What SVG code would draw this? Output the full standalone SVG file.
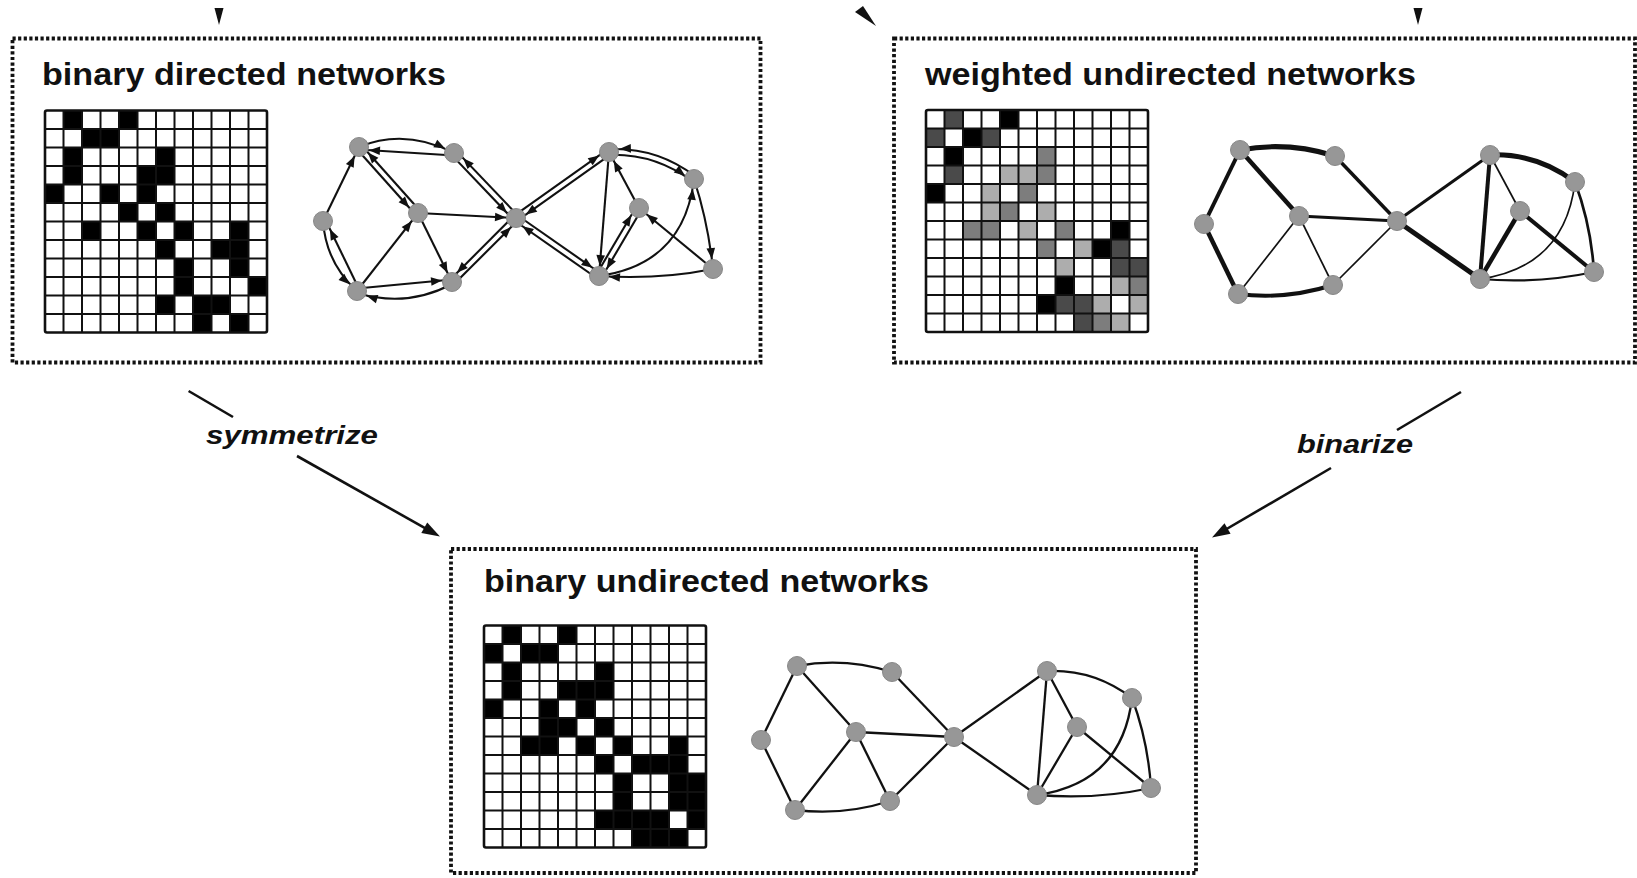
<svg xmlns="http://www.w3.org/2000/svg" xmlns:xlink="http://www.w3.org/1999/xlink" width="1637" height="878" viewBox="0 0 1637 878">
  <style>
    .box { fill: none; stroke: #111; stroke-width: 3.8; stroke-dasharray: 3.2 2.4; }
    .title { font-family: "Liberation Sans", Arial, sans-serif; font-weight: bold; font-size: 32px; fill: #111; }
    .op { font-family: "Liberation Sans", Arial, sans-serif; font-weight: bold; font-style: italic; font-size: 26px; fill: #111; }
    .k { fill: #000; }
    .dk { fill: #4a4a4a; }
    .md { fill: #7d7d7d; }
    .lt { fill: #adadad; }
    .node { fill: #979797; stroke: #888; stroke-width: 1; }
    .de { fill: none; stroke: #111; stroke-width: 2.1; marker-end: url(#ah); }
    .ue { fill: none; stroke: #111; stroke-width: 2.3; }
    .flow { fill: none; stroke: #111; stroke-width: 2.6; }
  </style>
  <defs>
    <!-- small arrowhead: tip sits 10 units short of the path end (node centre) -->
    <marker id="ah" markerUnits="userSpaceOnUse" orient="auto" refX="10" refY="0" markerWidth="1" markerHeight="1" overflow="visible">
      <path d="M0,0 L-11,-4.3 L-11,4.3 Z" fill="#111"/>
    </marker>
    <!-- large arrowhead for the transformation arrows -->
    <marker id="big" markerUnits="userSpaceOnUse" orient="auto" refX="-8" refY="0" markerWidth="1" markerHeight="1" overflow="visible">
      <path d="M0,0 L-18,-6 L-18,6 Z" fill="#111"/>
    </marker>
    <!-- 12 x 12 adjacency grid -->
    <g id="grid">
      <path fill="none" stroke="#111" stroke-width="2" d="M18.5 0V222M37 0V222M55.5 0V222M74 0V222M92.5 0V222M111 0V222M129.5 0V222M148 0V222M166.5 0V222M185 0V222M203.5 0V222M0 18.5H222M0 37H222M0 55.5H222M0 74H222M0 92.5H222M0 111H222M0 129.5H222M0 148H222M0 166.5H222M0 185H222M0 203.5H222"/>
      <rect x="0" y="0" width="222" height="222" rx="2" fill="none" stroke="#111" stroke-width="2.6"/>
    </g>
    <!-- node set shared by all three graphs -->
    <g id="nodes">
      <circle class="node" cx="359" cy="147" r="9.5"/>
      <circle class="node" cx="454" cy="153" r="9.5"/>
      <circle class="node" cx="323" cy="221" r="9.5"/>
      <circle class="node" cx="418" cy="213" r="9.5"/>
      <circle class="node" cx="357" cy="291" r="9.5"/>
      <circle class="node" cx="452" cy="282" r="9.5"/>
      <circle class="node" cx="516" cy="218" r="9.5"/>
      <circle class="node" cx="609" cy="152" r="9.5"/>
      <circle class="node" cx="694" cy="179" r="9.5"/>
      <circle class="node" cx="639" cy="208" r="9.5"/>
      <circle class="node" cx="599" cy="276" r="9.5"/>
      <circle class="node" cx="713" cy="269" r="9.5"/>
    </g>
  </defs>

  <rect width="1637" height="878" fill="#fff"/>

  <!-- panel: binary directed networks -->
  <g id="binary-directed">
    <rect class="box" x="12.5" y="38.5" width="748" height="324"/>
    <text class="title" x="42" y="84.5" textLength="404" lengthAdjust="spacingAndGlyphs">binary directed networks</text>
    <g transform="translate(45,110.5)">
      <rect class="k" x="18.5" y="0" width="18.5" height="18.5"/>
      <rect class="k" x="74" y="0" width="18.5" height="18.5"/>
      <rect class="k" x="37" y="18.5" width="37" height="18.5"/>
      <rect class="k" x="18.5" y="37" width="18.5" height="18.5"/>
      <rect class="k" x="111" y="37" width="18.5" height="18.5"/>
      <rect class="k" x="18.5" y="55.5" width="18.5" height="18.5"/>
      <rect class="k" x="92.5" y="55.5" width="37" height="18.5"/>
      <rect class="k" x="0" y="74" width="18.5" height="18.5"/>
      <rect class="k" x="55.5" y="74" width="18.5" height="18.5"/>
      <rect class="k" x="92.5" y="74" width="18.5" height="18.5"/>
      <rect class="k" x="74" y="92.5" width="18.5" height="18.5"/>
      <rect class="k" x="111" y="92.5" width="18.5" height="18.5"/>
      <rect class="k" x="37" y="111" width="18.5" height="18.5"/>
      <rect class="k" x="92.5" y="111" width="18.5" height="18.5"/>
      <rect class="k" x="129.5" y="111" width="18.5" height="18.5"/>
      <rect class="k" x="185" y="111" width="18.5" height="18.5"/>
      <rect class="k" x="111" y="129.5" width="18.5" height="18.5"/>
      <rect class="k" x="166.5" y="129.5" width="37" height="18.5"/>
      <rect class="k" x="129.5" y="148" width="18.5" height="18.5"/>
      <rect class="k" x="185" y="148" width="18.5" height="18.5"/>
      <rect class="k" x="129.5" y="166.5" width="18.5" height="18.5"/>
      <rect class="k" x="203.5" y="166.5" width="18.5" height="18.5"/>
      <rect class="k" x="111" y="185" width="18.5" height="18.5"/>
      <rect class="k" x="148" y="185" width="37" height="18.5"/>
      <rect class="k" x="148" y="203.5" width="18.5" height="18.5"/>
      <rect class="k" x="185" y="203.5" width="18.5" height="18.5"/>
      <use xlink:href="#grid" href="#grid"/>
    </g>
    <g>
      <path class="de" d="M359,147 Q405,128 454,153"/>
      <path class="de" d="M454,155.5 L359,149.5"/>
      <path class="de" d="M323,221 L359,147"/>
      <path class="de" d="M323,221 Q326,263 357,291"/>
      <path class="de" d="M359.5,290 L325.5,220"/>
      <path class="de" d="M356.8,149 L415.8,215"/>
      <path class="de" d="M420.2,211 L361.2,145"/>
      <path class="de" d="M451.8,155.1 L513.8,220.1"/>
      <path class="de" d="M518.2,215.9 L456.2,150.9"/>
      <path class="de" d="M418,213 L516,218"/>
      <path class="de" d="M418,213 L452,282"/>
      <path class="de" d="M357,291 L418,213"/>
      <path class="de" d="M357,288.5 L452,279.5"/>
      <path class="de" d="M452,284 Q407,308 357,293"/>
      <path class="de" d="M454.1,284.1 L518.1,220.1"/>
      <path class="de" d="M513.9,215.9 L449.9,279.9"/>
      <path class="de" d="M514.3,215.6 L607.3,149.6"/>
      <path class="de" d="M610.7,154.4 L517.7,220.4"/>
      <path class="de" d="M517.7,215.5 L600.7,273.5"/>
      <path class="de" d="M597.3,278.5 L514.3,220.5"/>
      <path class="de" d="M694.9,176.1 Q657.2,147.4 609.9,149.1"/>
      <path class="de" d="M608.1,154.9 Q655.4,153.2 693.1,181.9"/>
      <path class="de" d="M609,152 L599,276"/>
      <path class="de" d="M639,208 L609,152"/>
      <path class="de" d="M641.6,209.5 L601.6,277.5"/>
      <path class="de" d="M596.4,274.5 L636.4,206.5"/>
      <path class="de" d="M694,179 Q708,222 713,269"/>
      <path class="de" d="M713,269 L639,208"/>
      <path class="de" d="M599,276 Q684,264 694,179"/>
      <path class="de" d="M713,269 Q658,280 599,276"/>
      <use xlink:href="#nodes" href="#nodes"/>
    </g>
  </g>

  <!-- panel: weighted undirected networks -->
  <g id="weighted-undirected">
    <rect class="box" x="894" y="38.5" width="741" height="324"/>
    <text class="title" x="925" y="84.5" textLength="491" lengthAdjust="spacingAndGlyphs">weighted undirected networks</text>
    <g transform="translate(926,110)">
      <rect class="dk" x="18.5" y="0" width="18.5" height="18.5"/>
      <rect class="k" x="74" y="0" width="18.5" height="18.5"/>
      <rect class="dk" x="0" y="18.5" width="18.5" height="18.5"/>
      <rect class="k" x="37" y="18.5" width="18.5" height="18.5"/>
      <rect class="dk" x="55.5" y="18.5" width="18.5" height="18.5"/>
      <rect class="k" x="18.5" y="37" width="18.5" height="18.5"/>
      <rect class="md" x="111" y="37" width="18.5" height="18.5"/>
      <rect class="dk" x="18.5" y="55.5" width="18.5" height="18.5"/>
      <rect class="lt" x="74" y="55.5" width="37" height="18.5"/>
      <rect class="md" x="111" y="55.5" width="18.5" height="18.5"/>
      <rect class="k" x="0" y="74" width="18.5" height="18.5"/>
      <rect class="lt" x="55.5" y="74" width="18.5" height="18.5"/>
      <rect class="md" x="92.5" y="74" width="18.5" height="18.5"/>
      <rect class="lt" x="55.5" y="92.5" width="18.5" height="18.5"/>
      <rect class="md" x="74" y="92.5" width="18.5" height="18.5"/>
      <rect class="lt" x="111" y="92.5" width="18.5" height="18.5"/>
      <rect class="md" x="37" y="111" width="37" height="18.5"/>
      <rect class="lt" x="92.5" y="111" width="18.5" height="18.5"/>
      <rect class="md" x="129.5" y="111" width="18.5" height="18.5"/>
      <rect class="k" x="185" y="111" width="18.5" height="18.5"/>
      <rect class="md" x="111" y="129.5" width="18.5" height="18.5"/>
      <rect class="lt" x="148" y="129.5" width="18.5" height="18.5"/>
      <rect class="k" x="166.5" y="129.5" width="18.5" height="18.5"/>
      <rect class="dk" x="185" y="129.5" width="18.5" height="18.5"/>
      <rect class="lt" x="129.5" y="148" width="18.5" height="18.5"/>
      <rect class="dk" x="185" y="148" width="37" height="18.5"/>
      <rect class="k" x="129.5" y="166.5" width="18.5" height="18.5"/>
      <rect class="lt" x="185" y="166.5" width="18.5" height="18.5"/>
      <rect class="md" x="203.5" y="166.5" width="18.5" height="18.5"/>
      <rect class="k" x="111" y="185" width="18.5" height="18.5"/>
      <rect class="dk" x="129.5" y="185" width="37" height="18.5"/>
      <rect class="lt" x="166.5" y="185" width="18.5" height="18.5"/>
      <rect class="lt" x="203.5" y="185" width="18.5" height="18.5"/>
      <rect class="dk" x="148" y="203.5" width="18.5" height="18.5"/>
      <rect class="md" x="166.5" y="203.5" width="18.5" height="18.5"/>
      <rect class="lt" x="185" y="203.5" width="18.5" height="18.5"/>
      <use xlink:href="#grid" href="#grid"/>
    </g>
    <g transform="translate(881,3)" fill="none" stroke="#111">
      <path stroke-width="5" d="M359,147 Q406,138 454,153"/>
      <path stroke-width="4" d="M359,147 L323,221"/>
      <path stroke-width="4.5" d="M359,147 L418,213"/>
      <path stroke-width="3.5" d="M454,153 L516,218"/>
      <path stroke-width="4.5" d="M323,221 L357,291"/>
      <path stroke-width="3" d="M418,213 L516,218"/>
      <path stroke-width="1.7" d="M418,213 L357,291"/>
      <path stroke-width="1.7" d="M418,213 L452,282"/>
      <path stroke-width="4" d="M357,291 Q405,297 452,282"/>
      <path stroke-width="1.7" d="M452,282 L516,218"/>
      <path stroke-width="3" d="M516,218 L609,152"/>
      <path stroke-width="5" d="M516,218 L599,276"/>
      <path stroke-width="5" d="M609,152 Q656,150 694,179"/>
      <path stroke-width="4" d="M609,152 L599,276"/>
      <path stroke-width="1.7" d="M609,152 L639,208"/>
      <path stroke-width="4.5" d="M639,208 L599,276"/>
      <path stroke-width="4" d="M639,208 L713,269"/>
      <path stroke-width="2.7" d="M694,179 Q710,222 713,269"/>
      <path stroke-width="1.7" d="M694,179 Q684,264 599,276"/>
      <path stroke-width="2.2" d="M599,276 Q657,281 713,269"/>
      <use xlink:href="#nodes" href="#nodes"/>
    </g>
  </g>

  <!-- panel: binary undirected networks -->
  <g id="binary-undirected">
    <rect class="box" x="451" y="549" width="745" height="324"/>
    <text class="title" x="484" y="592" textLength="445" lengthAdjust="spacingAndGlyphs">binary undirected networks</text>
    <g transform="translate(484,625.5)">
      <rect class="k" x="18.5" y="0" width="18.5" height="18.5"/>
      <rect class="k" x="74" y="0" width="18.5" height="18.5"/>
      <rect class="k" x="0" y="18.5" width="18.5" height="18.5"/>
      <rect class="k" x="37" y="18.5" width="37" height="18.5"/>
      <rect class="k" x="18.5" y="37" width="18.5" height="18.5"/>
      <rect class="k" x="111" y="37" width="18.5" height="18.5"/>
      <rect class="k" x="18.5" y="55.5" width="18.5" height="18.5"/>
      <rect class="k" x="74" y="55.5" width="55.5" height="18.5"/>
      <rect class="k" x="0" y="74" width="18.5" height="18.5"/>
      <rect class="k" x="55.5" y="74" width="18.5" height="18.5"/>
      <rect class="k" x="92.5" y="74" width="18.5" height="18.5"/>
      <rect class="k" x="55.5" y="92.5" width="37" height="18.5"/>
      <rect class="k" x="111" y="92.5" width="18.5" height="18.5"/>
      <rect class="k" x="37" y="111" width="37" height="18.5"/>
      <rect class="k" x="92.5" y="111" width="18.5" height="18.5"/>
      <rect class="k" x="129.5" y="111" width="18.5" height="18.5"/>
      <rect class="k" x="185" y="111" width="18.5" height="18.5"/>
      <rect class="k" x="111" y="129.5" width="18.5" height="18.5"/>
      <rect class="k" x="148" y="129.5" width="55.5" height="18.5"/>
      <rect class="k" x="129.5" y="148" width="18.5" height="18.5"/>
      <rect class="k" x="185" y="148" width="37" height="18.5"/>
      <rect class="k" x="129.5" y="166.5" width="18.5" height="18.5"/>
      <rect class="k" x="185" y="166.5" width="37" height="18.5"/>
      <rect class="k" x="111" y="185" width="74" height="18.5"/>
      <rect class="k" x="203.5" y="185" width="18.5" height="18.5"/>
      <rect class="k" x="148" y="203.5" width="55.5" height="18.5"/>
      <use xlink:href="#grid" href="#grid"/>
    </g>
    <g transform="translate(438,519)">
      <path class="ue" d="M359,147 Q406,138 454,153"/>
      <path class="ue" d="M359,147 L323,221"/>
      <path class="ue" d="M359,147 L418,213"/>
      <path class="ue" d="M454,153 L516,218"/>
      <path class="ue" d="M323,221 L357,291"/>
      <path class="ue" d="M418,213 L516,218"/>
      <path class="ue" d="M418,213 L357,291"/>
      <path class="ue" d="M418,213 L452,282"/>
      <path class="ue" d="M357,291 Q405,297 452,282"/>
      <path class="ue" d="M452,282 L516,218"/>
      <path class="ue" d="M516,218 L609,152"/>
      <path class="ue" d="M516,218 L599,276"/>
      <path class="ue" d="M609,152 Q656,150 694,179"/>
      <path class="ue" d="M609,152 L599,276"/>
      <path class="ue" d="M609,152 L639,208"/>
      <path class="ue" d="M639,208 L599,276"/>
      <path class="ue" d="M639,208 L713,269"/>
      <path class="ue" d="M694,179 Q710,222 713,269"/>
      <path class="ue" d="M694,179 Q684,264 599,276"/>
      <path class="ue" d="M599,276 Q657,281 713,269"/>
      <use xlink:href="#nodes" href="#nodes"/>
    </g>
  </g>

  <!-- connectors: incoming arrow tips and the two transformations -->
  <g id="connectors">
    <polygon points="214.5,8 223.5,8 219,25" fill="#111"/>
    <polygon points="855,12 863,6 876,26" fill="#111"/>
    <polygon points="1413.5,8 1422.5,8 1418,25" fill="#111"/>

    <line class="flow" x1="188.6" y1="391" x2="233" y2="417"/>
    <line class="flow" x1="297" y1="456" x2="433" y2="532.6" marker-end="url(#big)"/>
    <text class="op" x="206" y="444" textLength="172" lengthAdjust="spacingAndGlyphs">symmetrize</text>

    <line class="flow" x1="1461" y1="392" x2="1397" y2="430"/>
    <line class="flow" x1="1331" y1="468" x2="1218.9" y2="533.5" marker-end="url(#big)"/>
    <text class="op" x="1297" y="453" textLength="116" lengthAdjust="spacingAndGlyphs">binarize</text>
  </g>
</svg>
